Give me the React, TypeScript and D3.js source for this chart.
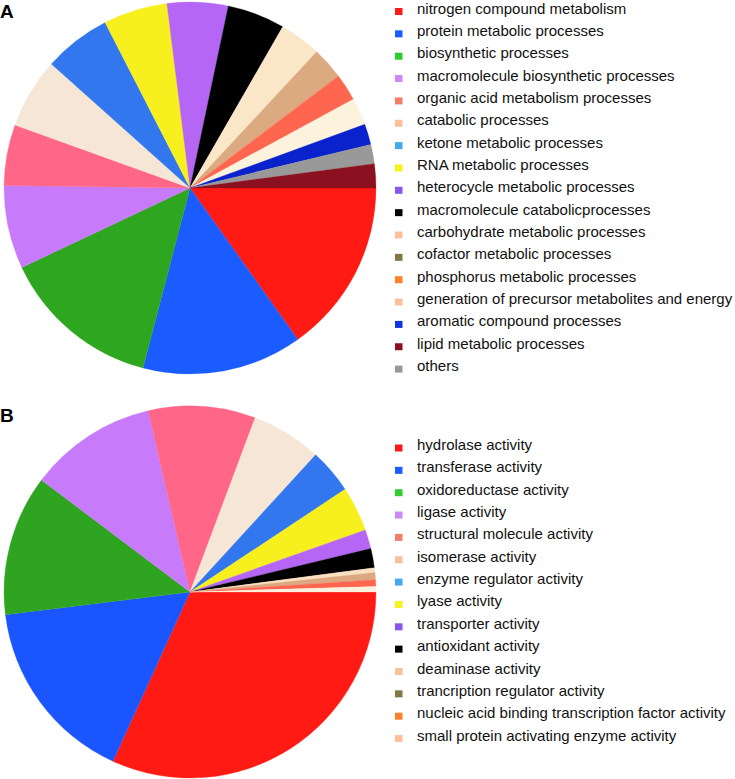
import React from 'react';
import * as d3 from 'd3';

// Panel A: biological process categories
const processLabels = [
  'nitrogen compound metabolism',
  'protein metabolic processes',
  'biosynthetic processes',
  'macromolecule biosynthetic processes',
  'organic acid metabolism processes',
  'catabolic processes',
  'ketone metabolic processes',
  'RNA metabolic processes',
  'heterocycle metabolic processes',
  'macromolecule catabolicprocesses',
  'carbohydrate metabolic processes',
  'cofactor metabolic processes',
  'phosphorus metabolic processes',
  'generation of precursor metabolites and energy',
  'aromatic compound processes',
  'lipid metabolic processes',
  'others',
];
const processValues = [54.5, 50, 50, 26, 19, 22, 21, 20, 19, 18, 13, 10, 8.5, 8.5, 6.5, 6, 7.5];
const processSliceColors = [
  '#ff1a14', '#1a5cff', '#2ea620', '#c77bfa', '#ff6688', '#f5e6d6', '#3377ee', '#f7f01e',
  '#b566f5', '#000000', '#fae7c8', '#dcaa80', '#ff6650', '#fdf3dc', '#0a22cc', '#999999', '#8b1020',
];
const processLegendColors = [
  '#ff1a1a', '#1a5cff', '#2ecc2e', '#cc88f5', '#f77b6b', '#fbbf99', '#44a8ee', '#f5f51a',
  '#8855ee', '#000000', '#fbbf99', '#807845', '#ff7f2a', '#fbbf99', '#1133dd', '#8b1020', '#999999',
];

// Panel B: molecular function categories
const functionLabels = [
  'hydrolase activity',
  'transferase activity',
  'oxidoreductase activity',
  'ligase activity',
  'structural molecule activity',
  'isomerase activity',
  'enzyme regulator activity',
  'lyase activity',
  'transporter activity',
  'antioxidant activity',
  'deaminase activity',
  'trancription regulator activity',
  'nucleic acid binding transcription factor activity',
  'small protein activating enzyme activity',
];
const functionValues = [114.5, 58.5, 44, 40, 33.5, 22, 14, 14, 6, 6, 1.5, 2.2, 2.1, 1.7];
const functionSliceColors = [
  '#ff1a14', '#1a55ff', '#2fa420', '#c77bfa', '#ff6688', '#f5e6d6', '#3377ee', '#f7f01e',
  '#b566f5', '#000000', '#fae0c0', '#dca880', '#ff6650', '#fdf0dc',
];
const functionLegendColors = [
  '#ff1a1a', '#1a5cff', '#2ecc2e', '#cc88f5', '#f77b6b', '#fbbf99', '#44a8ee', '#f5f51a',
  '#8855ee', '#000000', '#fbbf99', '#807845', '#ff7f2a', '#fbbf99',
];

const FONT = '"Liberation Sans", Arial, Helvetica, sans-serif';

type PanelProps = {
  letter: string;
  letterY: number;
  cx: number;
  cy: number;
  radius: number;
  values: number[];
  sliceColors: string[];
  labels: string[];
  legendColors: string[];
  legendTop: number;
};

const Panel = ({ letter, letterY, cx, cy, radius, values, sliceColors, labels, legendColors, legendTop }: PanelProps) => {
  // slices start at 3 o'clock and run clockwise
  const pie = d3.pie<number>()
    .sort(null)
    .value(d => d)
    .startAngle(Math.PI / 2)
    .endAngle(Math.PI / 2 + 2 * Math.PI);
  const arc = d3.arc<d3.PieArcDatum<number>>().innerRadius(0).outerRadius(radius);
  const arcs = pie(values);

  const rowStep = 22.35;
  const y = d3.scaleLinear().domain([0, 1]).range([legendTop, legendTop + rowStep]);

  return (
    <g>
      <text x={0} y={letterY} fontFamily={FONT} fontWeight="bold" fontSize={19} fill="#000">
        {letter}
      </text>
      <g transform={`translate(${cx},${cy})`}>
        {arcs.map((a, i) => (
          <path key={i} d={arc(a) || ''} fill={sliceColors[i]} stroke={sliceColors[i]} strokeWidth={0.3} />
        ))}
      </g>
      <g>
        {labels.map((label, i) => (
          <g key={label} transform={`translate(0,${y(i)})`}>
            <rect x={395} y={-5.5} width={7.5} height={7} fill={legendColors[i]} />
            <text x={417} y={0} fontFamily={FONT} fontSize={15} fill="#111">
              {label}
            </text>
          </g>
        ))}
      </g>
    </g>
  );
};

export default function App() {
  return (
    <svg
      width={735}
      height={779}
      viewBox="0 0 735 779"
      style={{ position: 'absolute', left: 0, top: 0, background: '#fff' }}
    >
      <rect width={735} height={779} fill="#fff" />
      <Panel
        letter="A"
        letterY={18}
        cx={190}
        cy={188}
        radius={186}
        values={processValues}
        sliceColors={processSliceColors}
        labels={processLabels}
        legendColors={processLegendColors}
        legendTop={13.5}
      />
      <Panel
        letter="B"
        letterY={422}
        cx={190}
        cy={592}
        radius={186}
        values={functionValues}
        sliceColors={functionSliceColors}
        labels={functionLabels}
        legendColors={functionLegendColors}
        legendTop={450}
      />
    </svg>
  );
}
